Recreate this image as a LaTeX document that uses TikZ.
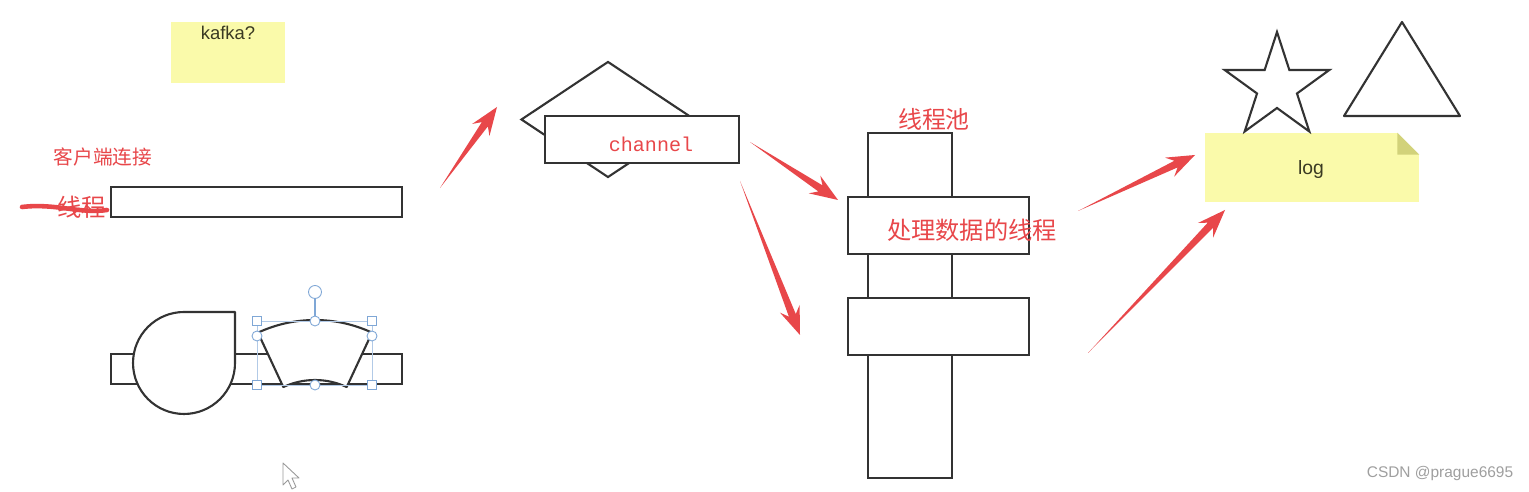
\documentclass[tikz,border=0pt]{standalone}
\usepackage{fontspec}
\setmainfont{Liberation Sans}
\newfontfamily\cjk{Noto Sans CJK SC}
\newfontfamily\monofam{Liberation Mono}
\usetikzlibrary{shapes.geometric,positioning,calc}
\usepackage{xcolor}
\definecolor{inkred}{HTML}{E8474A}
\definecolor{notey}{HTML}{FAFAAA}
\definecolor{notefold}{HTML}{D2D27A}
\definecolor{notetext}{HTML}{3A3A22}
\definecolor{lineink}{HTML}{333333}
\definecolor{handleblue}{HTML}{7FA7D6}

% tapered red pointer, tail -> tip
\newcommand{\fatarrow}[2]{%
  \path ($(#2)!12pt!(#1)$) coordinate (neck)
        ($(#2)!16pt!(#1)$) coordinate (barb);
  \fill[inkred] (#1) -- ($(neck)!2.1pt!90:(#2)$) -- ($(barb)!6pt!90:(#2)$) -- (#2)
    -- ($(barb)!6pt!-90:(#2)$) -- ($(neck)!2.1pt!-90:(#2)$) -- cycle;}

\begin{document}
\begin{tikzpicture}[x=0.02cm, y=-0.02cm,
  box/.style={draw=lineink, line width=1.2pt, fill=white, inner sep=0pt},
  outline/.style={draw=lineink, line width=1.2pt, line join=round},
  note/.style={fill=notey, inner sep=0pt},
  notelabel/.style={text=notetext, inner sep=0pt, font=\fontsize{10.5}{12}\selectfont},
  redtxt/.style={text=inkred, inner sep=0pt, font=\cjk\fontsize{13.8}{16}\selectfont},
  smallred/.style={text=inkred, inner sep=0pt, font=\cjk\fontsize{11.2}{13}\selectfont},
  hsquare/.style={draw=handleblue, fill=white, line width=0.5pt, minimum size=0.17cm, inner sep=0pt},
  hdot/.style={circle, draw=handleblue, fill=white, line width=0.5pt, minimum size=0.2cm, inner sep=0pt}
]
  \fill[white] (0,0) rectangle (1529,492);
  \useasboundingbox (0,0) rectangle (1529,492);

  % client side
  \node[note, minimum width=2.28cm, minimum height=1.22cm] (kafka) at (228,52.5) {};
  \node[notelabel, below=2.5pt of kafka.north] (kafkatxt) {kafka?};

  \node[smallred] (conntitle) at (103,157) {客户端连接};
  \node[box, minimum width=5.82cm, minimum height=0.6cm] (conn) at (256.5,202) {};
  \node[redtxt, left=2pt of conn, yshift=-3pt] (connlabel) {线程};
  \draw[inkred, line width=2.6pt, line cap=round] (22,207) .. controls (55,203) and (80,214) .. (107,210);

  \node[box, minimum width=5.82cm, minimum height=0.6cm] (pipe) at (256.5,369) {};
  \draw[outline, fill=white] (184,312) -- (235,312) -- (235,363)
    arc[start angle=0, end angle=-270, radius=1.02cm] -- cycle;
  \coordinate (fanc) at (315,455);
  \draw[outline, fill=white] ($(fanc)+(115:2.7cm)$) arc[start angle=115, end angle=65, radius=2.7cm]
    -- ($(fanc)+(65:1.5cm)$) arc[start angle=65, end angle=115, radius=1.5cm] -- cycle;

  % selection handles on the fan
  \draw[handleblue!60, line width=0.3pt] (257,321) rectangle (372,385);
  \draw[handleblue, line width=0.6pt] (315,298) -- (315,321);
  \foreach \hx/\hy in {257/321, 372/321, 257/385, 372/385}
    \node[hsquare] at (\hx,\hy) {};
  \foreach \hx/\hy in {315/321, 257/336, 372/336, 315/385}
    \node[hdot] at (\hx,\hy) {};
  \node[hdot, minimum size=0.26cm] (rot) at (315,292) {};

  % cursor
  \draw[gray!80, fill=white, line width=0.5pt, line join=round]
    (283,463) -- (283,485) -- (288,480) -- (292,489) -- (296,487) -- (292,478) -- (299,478) -- cycle;

  % channel
  \node[diamond, draw=lineink, line width=1.2pt, minimum width=3.48cm, minimum height=2.32cm, inner sep=0pt] (chdiamond) at (608,119.5) {};
  \node[box, minimum width=3.88cm, minimum height=0.94cm] (channel) at (642,139.5) {};
  \node[text=inkred, inner sep=0pt, font=\monofam\fontsize{11.4}{13}\selectfont] (chlabel) at (651,144) {channel};

  % thread pool
  \node[smallred, font=\cjk\fontsize{13.6}{16}\selectfont] (pooltitle) at (934,119) {线程池};
  \node[box, minimum width=1.68cm, minimum height=6.9cm] (pool) at (910,305.5) {};
  \node[box, minimum width=3.62cm, minimum height=1.14cm] (worker1) at (938.5,225.5) {};
  \node[box, minimum width=3.62cm, minimum height=1.14cm] (worker2) at (938.5,326.5) {};
  \node[redtxt] (workerlabel) at (972,230) {处理数据的线程};

  % log
  \node[note, minimum width=4.28cm, minimum height=1.38cm] (lognote) at (1312,167.5) {};
  \fill[white] ($(lognote.north east)+(-22,0)$) -- (lognote.north east) -- ($(lognote.north east)+(0,22)$) -- cycle;
  \fill[notefold] ($(lognote.north east)+(-22,0)$) -- ($(lognote.north east)+(0,22)$) -- ($(lognote.north east)+(-22,22)$) -- cycle;
  \node[notelabel, font=\fontsize{11}{13}\selectfont] (logtxt) at (1311,170) {log};
  \node[star, star points=5, star point ratio=2.618, draw=lineink, line width=1.2pt, minimum size=2.2cm, inner sep=0pt] (star) at (1277,87) {};
  \draw[outline] (1402,22) coordinate (tritop) -- (1460,116) -- (1344,116) -- cycle;

  % arrows
  \coordinate (t1) at (440,188);  \coordinate (h1) at (497,107);
  \coordinate (t2) at (750,142);  \coordinate (h2) at (838,200);
  \coordinate (t3) at (740,181);  \coordinate (h3) at (800,335);
  \coordinate (t4) at (1078,211); \coordinate (h4) at (1195,155);
  \coordinate (t5) at (1088,353); \coordinate (h5) at (1225,210);
  \fatarrow{t1}{h1}
  \fatarrow{t2}{h2}
  \fatarrow{t3}{h3}
  \fatarrow{t4}{h4}
  \fatarrow{t5}{h5}

  \node[text=gray!75, inner sep=0pt, font=\fontsize{8.8}{10}\selectfont] (mark) at (1440,474) {CSDN @prague6695};
\end{tikzpicture}
\end{document}
